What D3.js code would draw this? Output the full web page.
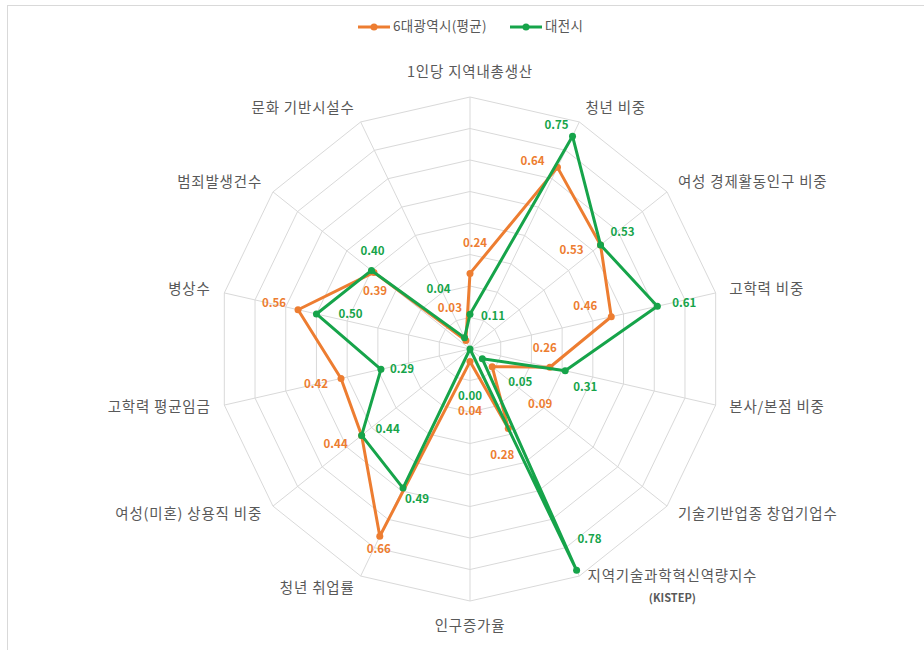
<!DOCTYPE html>
<html>
<head>
<meta charset="utf-8">
<script src="https://cdn.jsdelivr.net/npm/d3@7"></script>
<style>
  body { margin: 0; background: #fff; }
  text { font-family: "Noto Sans CJK KR", "Noto Sans", sans-serif; }
</style>
</head>
<body>
<script>
// categories, clockwise from the top
const categories = [
  "1인당 지역내총생산", "청년 비중", "여성 경제활동인구 비중", "고학력 비중",
  "본사/본점 비중", "기술기반업종 창업기업수", "지역기술과학혁신역량지수|(KISTEP)",
  "인구증가율", "청년 취업률", "여성(미혼) 상용직 비중", "고학력 평균임금",
  "병상수", "범죄발생건수", "문화 기반시설수"
];
const seriesNames = ["6대광역시(평균)", "대전시"];
const metroAvg = [0.24, 0.64, 0.53, 0.46, 0.26, 0.09, 0.28, 0.04, 0.66, 0.44, 0.42, 0.56, 0.39, 0.03];
const daejeon  = [0.11, 0.75, 0.53, 0.61, 0.31, 0.05, 0.78, 0.00, 0.49, 0.44, 0.29, 0.50, 0.40, 0.04];
const ringTicks = [0.1, 0.2, 0.3, 0.4, 0.5, 0.6, 0.7, 0.8];

// label placement (pixels from the point)
const metroLabelOff = [[5,-30],[-25,-5],[-29,6],[-26,-10],[-5,-18],[48,38],[-6,27],[0,50],[-1,14],[-26,9],[-25,6],[-24,-6],[1,19],[-16,-32]];
const djLabelOff = [[23,3],[-16,-10],[22,-12],[27,-2],[20,17],[38,24],[13,-30],[0,48],[14,12],[26,-6],[21,1],[34,1],[1,-19],[-26,-48]];

const width = 924, height = 650;
const cx = 470, cy = 349;
const colors = ["#ED7D31", "#16A44A"];

const svg = d3.select("body").append("svg")
  .attr("width", width).attr("height", height);

// chart frame (cropped at right and bottom)
svg.append("rect")
  .attr("x", 7.5).attr("y", 5.5).attr("width", 940).attr("height", 700)
  .attr("fill", "none").attr("stroke", "#d9d9d9");

const r = d3.scaleLinear().domain([0, 0.8]).range([0, 252]);
const angle = d3.scaleLinear().domain([0, categories.length]).range([0, 2 * Math.PI]);

function pt(i, v) {
  const a = angle(i);
  return [cx + r(v) * Math.sin(a), cy - r(v) * Math.cos(a)];
}

const grid = svg.append("g");
ringTicks.forEach(t => {
  grid.append("polygon")
    .attr("points", categories.map((c, i) => pt(i, t).join(",")).join(" "))
    .attr("fill", "none").attr("stroke", "#d9d9d9").attr("stroke-width", 1);
});
categories.forEach((c, i) => {
  const p = pt(i, 0.8);
  grid.append("line")
    .attr("x1", cx).attr("y1", cy).attr("x2", p[0]).attr("y2", p[1])
    .attr("stroke", "#d9d9d9");
});

// category labels
categories.forEach((c, i) => {
  const a = angle(i);
  const s = Math.sin(a), co = Math.cos(a);
  let x = cx + 266 * s, y = cy - 266 * co;
  let anchor = Math.abs(s) < 0.01 ? "middle" : (s > 0 ? "start" : "end");
  if (Math.abs(s) < 0.01) y += co > 0 ? -10 : 12;
  const lines = c.split("|");
  if (lines.length > 1) { anchor = "middle"; x += 87; y -= 12; }
  lines.forEach((ln, k) => {
    svg.append("text")
      .attr("x", x).attr("y", y + k * 22)
      .attr("text-anchor", anchor)
      .attr("dominant-baseline", "middle")
      .attr("font-size", k ? 11 : 14.5)
      .attr("letter-spacing", k ? 0 : 0.8)
      .attr("font-weight", k ? "bold" : "normal")
      .attr("fill", "#595959")
      .text(ln);
  });
});

const series = [metroAvg, daejeon];
const offs = [metroLabelOff, djLabelOff];
const line = d3.line().curve(d3.curveLinearClosed);

series.forEach((vals, s) => {
  const pts = vals.map((v, i) => pt(i, v));
  const g = svg.append("g");
  g.append("path")
    .attr("d", line(pts))
    .attr("fill", "none").attr("stroke", colors[s])
    .attr("stroke-width", 3).attr("stroke-linejoin", "round");
  g.selectAll("circle").data(pts).enter().append("circle")
    .attr("cx", d => d[0]).attr("cy", d => d[1]).attr("r", 3.5)
    .attr("fill", colors[s]);
});

series.forEach((vals, s) => {
  vals.forEach((v, i) => {
    const p = pt(i, v);
    svg.append("text")
      .attr("x", p[0] + offs[s][i][0]).attr("y", p[1] + offs[s][i][1])
      .attr("text-anchor", "middle").attr("dominant-baseline", "middle")
      .attr("font-family", "'Open Sans', sans-serif")
      .attr("font-size", 11.5).attr("font-weight", "bold")
      .attr("fill", colors[s])
      .text(v.toFixed(2));
  });
});

// legend
const legendX = [358, 510];
seriesNames.forEach((n, s) => {
  const g = svg.append("g").attr("transform", `translate(${legendX[s]},27)`);
  g.append("line").attr("x1", 0).attr("x2", 32).attr("y1", 0).attr("y2", 0)
    .attr("stroke", colors[s]).attr("stroke-width", 3);
  g.append("circle").attr("cx", 16).attr("cy", 0).attr("r", 3.5).attr("fill", colors[s]);
  g.append("text").attr("x", 35).attr("y", 0)
    .attr("dominant-baseline", "middle").attr("font-size", 13.5)
    .attr("letter-spacing", 0.3)
    .attr("fill", "#595959").text(n);
});
</script>
</body>
</html>
